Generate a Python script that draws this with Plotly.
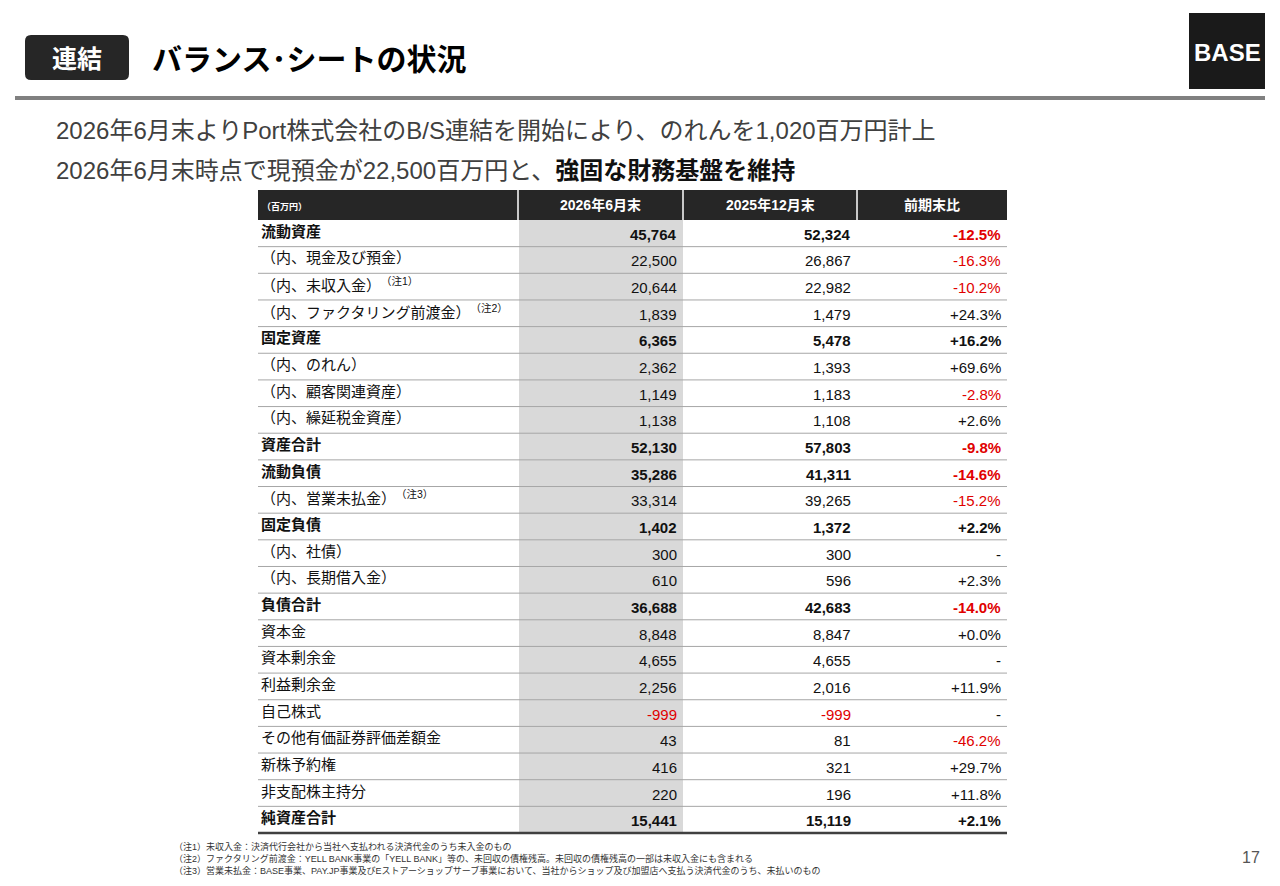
import plotly.graph_objects as go

labels = ["流動資産", "（内、現金及び預金）", "（内、未収入金）", "（内、ファクタリング前渡金）",
          "固定資産", "（内、のれん）", "（内、顧客関連資産）", "（内、繰延税金資産）", "資産合計",
          "流動負債", "（内、営業未払金）", "固定負債", "（内、社債）", "（内、長期借入金）",
          "負債合計", "資本金", "資本剰余金", "利益剰余金", "自己株式", "その他有価証券評価差額金",
          "新株予約権", "非支配株主持分", "純資産合計"]
notes = {2: "（注1）", 3: "（注2）", 10: "（注3）"}
jun2026 = ["45,764", "22,500", "20,644", "1,839", "6,365", "2,362", "1,149", "1,138", "52,130",
           "35,286", "33,314", "1,402", "300", "610", "36,688", "8,848", "4,655", "2,256", "-999",
           "43", "416", "220", "15,441"]
dec2025 = ["52,324", "26,867", "22,982", "1,479", "5,478", "1,393", "1,183", "1,108", "57,803",
           "41,311", "39,265", "1,372", "300", "596", "42,683", "8,847", "4,655", "2,016", "-999",
           "81", "321", "196", "15,119"]
change = ["-12.5%", "-16.3%", "-10.2%", "+24.3%", "+16.2%", "+69.6%", "-2.8%", "+2.6%", "-9.8%",
          "-14.6%", "-15.2%", "+2.2%", "-", "+2.3%", "-14.0%", "+0.0%", "-", "+11.9%", "-",
          "-46.2%", "+29.7%", "+11.8%", "+2.1%"]
bold_rows = {0, 4, 8, 9, 11, 14, 22}
headers = ["（百万円）", "2026年6月末", "2025年12月末", "前期末比"]

RED = "#e00000"
DARK = "#111111"
W, H = 1264, 870
OFF = 8
F = "Liberation Sans, Noto Sans CJK JP"

def px(x):
    return (x - OFF) / W

def py(y):
    return 1 - (y - OFF) / H

def is_red(v):
    return v.startswith("-") and v != "-"

shapes, annotations = [], []

def ann(text, x, y, size, color="#000", xanchor="left", yanchor="middle", font=F):
    annotations.append(dict(text=text, x=px(x), y=py(y), xref="paper", yref="paper", showarrow=False,
                            xanchor=xanchor, yanchor=yanchor,
                            font=dict(size=size, color=color, family=font)))

def rect(x0, y0, x1, y1, color):
    shapes.append(dict(type="rect", xref="paper", yref="paper", x0=px(x0), x1=px(x1),
                       y0=py(y1), y1=py(y0), fillcolor=color, line=dict(width=0), layer="below"))

def hline(x0, x1, y, color, w):
    shapes.append(dict(type="line", xref="paper", yref="paper", x0=px(x0), x1=px(x1),
                       y0=py(y), y1=py(y), line=dict(color=color, width=w)))

# table geometry
colx = [258, 518, 683, 857, 1007]
top, hh = 190, 30
rh = (833 - (top + hh)) / len(labels)

# header
rect(colx[0], top, colx[4], top + hh, "#262626")
for i in range(1, 4):
    shapes.append(dict(type="line", xref="paper", yref="paper", x0=px(colx[i]), x1=px(colx[i]),
                       y0=py(top), y1=py(top + hh), line=dict(color="white", width=1.5)))
ann("<b>（百万円）</b>", colx[0] + 2, top + hh / 2 + 2, 9, "white")
for i in range(1, 4):
    ann(f"<b>{headers[i]}</b>", (colx[i] + colx[i + 1]) / 2, top + hh / 2, 14, "white", "center")

# shaded column
rect(colx[1] + 1, top + hh, colx[2], 833, "#d9d9d9")

for r, lab in enumerate(labels):
    yc = top + hh + (r + 0.5) * rh
    b = r in bold_rows
    wrap = (lambda s: f"<b>{s}</b>") if b else (lambda s: s)
    txt = wrap(lab)
    if r in notes:
        txt += f"<sup>{notes[r]}</sup>"
    ann(txt, colx[0] + 1, yc - 2, 15, DARK)
    for ci, col in enumerate((jun2026, dec2025, change)):
        v = col[r]
        ann(wrap(v), colx[ci + 2] - 4, yc + 1, 15, RED if is_red(v) else DARK, "right")
    if r < len(labels) - 1:
        hline(colx[0], colx[4], top + hh + (r + 1) * rh, "#a6a6a6", 1)
hline(colx[0], colx[4], 833, "#404040", 2.5)

# slide header
hline(15, 1265, 98, "#808080", 4)
shapes.append(dict(type="path", xref="paper", yref="paper",
                   path=f"M {px(31)},{py(35)} L {px(123)},{py(35)} Q {px(129)},{py(35)} {px(129)},{py(41)} "
                        f"L {px(129)},{py(74)} Q {px(129)},{py(80)} {px(123)},{py(80)} L {px(31)},{py(80)} "
                        f"Q {px(25)},{py(80)} {px(25)},{py(74)} L {px(25)},{py(41)} Q {px(25)},{py(35)} {px(31)},{py(35)} Z",
                   fillcolor="#262626", line=dict(width=0)))
rect(1189, 13, 1265, 89, "#1a1a1a")
ann("<b>連結</b>", 77, 59, 25, "white", "center")
ann("<b>バランス･シートの状況</b>", 150, 59, 30, "#000")
ann("<b>BASE</b>", 1227, 52, 24, "white", "center", font="Liberation Sans Narrow, Liberation Sans")
ann("2026年6月末よりPort株式会社のB/S連結を開始により、のれんを1,020百万円計上", 54, 131, 24, "#404040")
ann("2026年6月末時点で現預金が22,500百万円と、<b><span style='color:#111'>強固な財務基盤を維持</span></b>",
    54, 170, 24, "#404040")
ann("（注1）未収入金：決済代行会社から当社へ支払われる決済代金のうち未入金のもの", 172, 846, 9, "#333")
ann("（注2）ファクタリング前渡金：YELL BANK事業の「YELL BANK」等の、未回収の債権残高。未回収の債権残高の一部は未収入金にも含まれる", 172, 858, 9, "#333")
ann("（注3）営業未払金：BASE事業、PAY.JP事業及びEストアーショップサーブ事業において、当社からショップ及び加盟店へ支払う決済代金のうち、未払いのもの", 172, 870, 9, "#333")
ann("17", 1262, 857, 16, "#555", "right")

fig = go.Figure()
fig.update_layout(width=W, height=H, margin=dict(l=0, r=0, t=0, b=0),
                  paper_bgcolor="white", plot_bgcolor="white",
                  xaxis=dict(visible=False), yaxis=dict(visible=False),
                  shapes=shapes, annotations=annotations)
fig.write_html("out.html")
